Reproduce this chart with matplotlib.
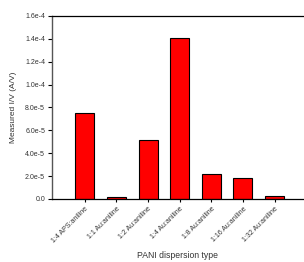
import matplotlib
matplotlib.use('Agg')
import matplotlib.pyplot as plt
import numpy as np

categories = ['1:4 APS:aniline', '1:1 Au:aniline', '1:2 Au:aniline', '1:4 Au:aniline',
              '1:8 Au:aniline', '1:16 Au:aniline', '1:32 Au:aniline']
values = [7.55e-5, 2.0e-6, 5.2e-5, 1.41e-4, 2.2e-5, 1.8e-5, 2.3e-6]
yticks = [0, 2e-5, 4e-5, 6e-5, 8e-5, 1.0e-4, 1.2e-4, 1.4e-4, 1.6e-4]
ylabels = ['0.0', '2.0e-5', '4.0e-5', '6.0e-5', '8.0e-5', '1.0e-4', '1.2e-4', '1.4e-4', '1.6e-4']

plt.rcParams['font.family'] = ['Liberation Sans', 'DejaVu Sans']

fig = plt.figure(figsize=(3.04, 2.62), dpi=100)
ax = fig.add_axes([0.171, 0.2405, 0.829, 0.6985])

x = np.arange(len(categories))
ax.bar(x, values, width=0.6, color='#ff0000', edgecolor='black', linewidth=0.8)

ax.set_xlim(-1.04, 6.93)
ax.set_ylim(0, 1.6e-4)
ax.set_yticks(yticks)
ax.set_yticklabels(ylabels, fontsize=5, color='#333333')
ax.set_xticks(x)
ax.set_xticklabels(categories, fontsize=5, rotation=45, ha='right',
                   rotation_mode='anchor', color='#333333')

ax.spines['right'].set_visible(False)
for s in ['bottom', 'top']:
    ax.spines[s].set_linewidth(0.9)
ax.spines['left'].set_linewidth(1.0)
ax.spines['left'].set_color('#555555')
ax.tick_params(axis='y', direction='out', length=3, width=0.8, pad=2)
ax.tick_params(axis='x', direction='out', length=2, width=0.8, pad=2.5)

ax.set_ylabel('Measured I/V (A/V)', fontsize=6, color='#333333', labelpad=6)
ax.set_xlabel('PANI dispersion type', fontsize=6.2, color='#333333', labelpad=5)

fig.savefig('out.png', dpi=100)
